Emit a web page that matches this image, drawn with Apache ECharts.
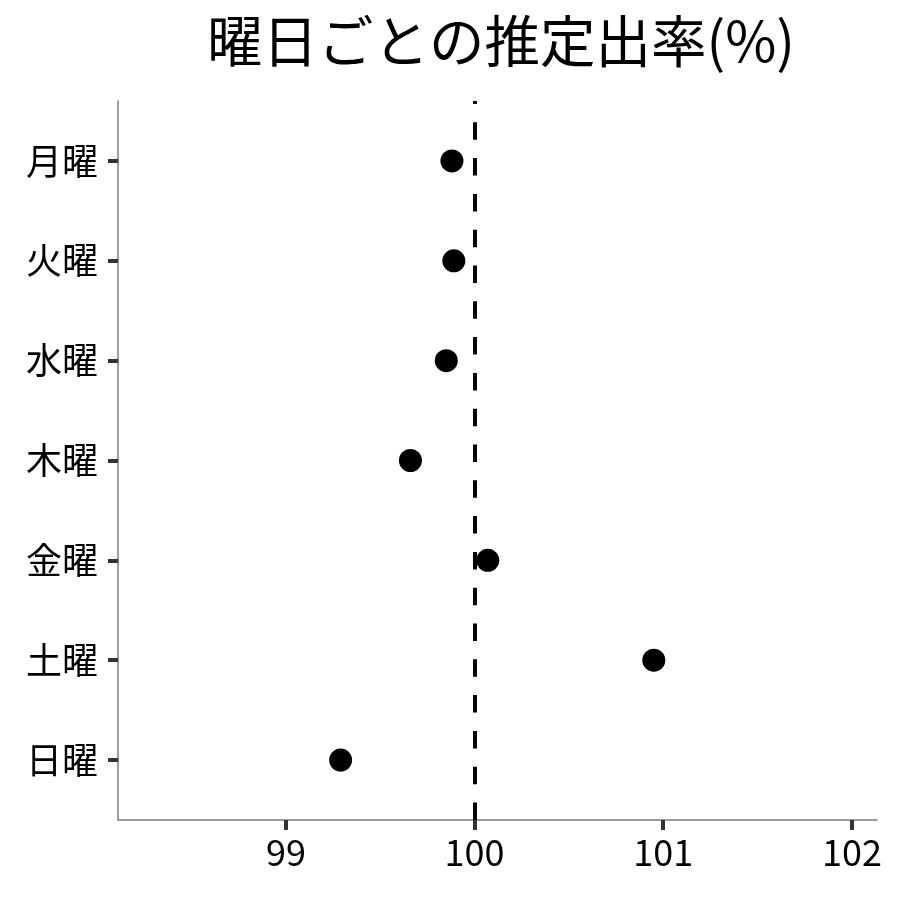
<!DOCTYPE html>
<html>
<head>
<meta charset="utf-8">
<script src="https://cdn.jsdelivr.net/npm/echarts@6/dist/echarts.min.js"></script>
<style>
  html, body { margin: 0; padding: 0; background: #fff; }
  #chart { width: 900px; height: 900px; }
</style>
</head>
<body>
<div id="chart"></div>
<script>
var days = ['月曜', '火曜', '水曜', '木曜', '金曜', '土曜', '日曜']
var rates = [99.88, 99.89, 99.85, 99.66, 100.07, 100.95, 99.29]
var xTicks = [99, 100, 101, 102]
var refValue = 100

var font = '"Noto Sans CJK JP", "Noto Sans", sans-serif'

var myChart = echarts.init(document.getElementById('chart'), null, { renderer: 'canvas' })

// y positions 1..7, Monday on top
var points = rates.map((v, i) => [v, i + 1])
var yTicks = days.map((d, i) => i + 1)

var option = {
  backgroundColor: '#fff',
  animation: false,
  title: {
    text: '曜日ごとの推定出率(%)',
    left: 496,
    top: 8,
    textAlign: 'center',
    textStyle: {
      fontFamily: font,
      fontSize: 55.5,
      fontWeight: 'normal',
      color: '#000'
    }
  },
  grid: {
    left: 118,
    right: 23,
    top: 101,
    bottom: 80
  },
  xAxis: {
    type: 'value',
    min: 98.11,
    max: 102.133,
    splitLine: { show: false },
    axisLine: { show: true, lineStyle: { color: '#7f7f7f', width: 1.5 } },
    axisTick: { show: true, customValues: xTicks, length: 10, lineStyle: { color: '#333', width: 4 } },
    axisLabel: {
      customValues: xTicks,
      margin: 14,
      fontFamily: font,
      fontSize: 36,
      color: '#000'
    }
  },
  yAxis: {
    type: 'value',
    inverse: true,
    min: 0.4,
    max: 7.6,
    splitLine: { show: false },
    axisLine: { show: true, lineStyle: { color: '#7f7f7f', width: 1.5 } },
    axisTick: { show: true, customValues: yTicks, length: 10, lineStyle: { color: '#333', width: 4 } },
    axisLabel: {
      customValues: yTicks,
      margin: 20,
      fontFamily: font,
      fontSize: 36,
      color: '#000',
      formatter: function (v) { return days[Math.round(v) - 1] || '' }
    }
  },
  series: [{
    type: 'scatter',
    data: points,
    symbolSize: 23,
    itemStyle: { color: '#000', opacity: 1 },
    markLine: {
      silent: true,
      symbol: 'none',
      label: { show: false },
      lineStyle: { color: '#000', width: 4, type: [17.5, 18.3] },
      data: [[
        { coord: [refValue, 7.6] },
        { coord: [refValue, 0.4] }
      ]]
    }
  }]
}

myChart.setOption(option)
</script>
</body>
</html>
